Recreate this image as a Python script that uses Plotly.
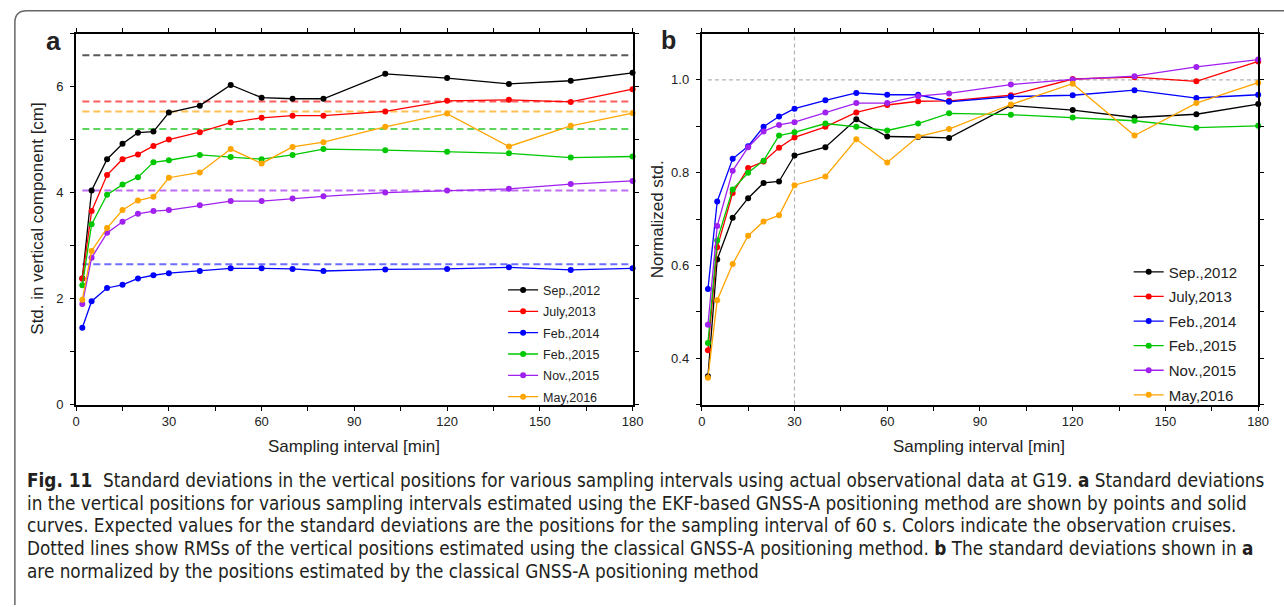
import plotly.graph_objects as go

# ---------------- data ----------------
intervals = [2, 5, 10, 15, 20, 25, 30, 40, 50, 60, 70, 80, 100, 120, 140, 160, 180]
cruises = ["Sep.,2012", "July,2013", "Feb.,2014", "Feb.,2015", "Nov.,2015", "May,2016"]

std_sep2012 = [2.38, 4.04, 4.63, 4.92, 5.13, 5.15, 5.51, 5.64, 6.03, 5.79, 5.77, 5.77, 6.24, 6.16, 6.05, 6.11, 6.26]
std_jul2013 = [2.38, 3.65, 4.33, 4.63, 4.72, 4.88, 5.00, 5.14, 5.32, 5.41, 5.45, 5.45, 5.53, 5.73, 5.75, 5.71, 5.95]
std_feb2014 = [1.45, 1.95, 2.20, 2.26, 2.38, 2.44, 2.48, 2.52, 2.57, 2.57, 2.56, 2.52, 2.55, 2.56, 2.59, 2.54, 2.57]
std_feb2015 = [2.25, 3.40, 3.96, 4.15, 4.29, 4.57, 4.61, 4.71, 4.67, 4.63, 4.71, 4.82, 4.80, 4.77, 4.74, 4.66, 4.68]
std_nov2015 = [1.90, 2.77, 3.24, 3.45, 3.60, 3.65, 3.67, 3.76, 3.84, 3.84, 3.89, 3.93, 4.00, 4.04, 4.07, 4.16, 4.22]
std_may2016 = [1.98, 2.90, 3.33, 3.67, 3.85, 3.92, 4.28, 4.38, 4.82, 4.55, 4.86, 4.95, 5.24, 5.49, 4.87, 5.26, 5.50]

classical_rms = [6.59, 5.72, 2.65, 5.20, 4.04, 5.53]

norm_sep2012 = [0.361, 0.613, 0.703, 0.745, 0.778, 0.781, 0.837, 0.855, 0.915, 0.878, 0.877, 0.875, 0.945, 0.935, 0.919, 0.926, 0.948]
norm_jul2013 = [0.417, 0.639, 0.756, 0.810, 0.824, 0.854, 0.876, 0.899, 0.930, 0.946, 0.954, 0.955, 0.967, 1.002, 1.006, 0.997, 1.040]
norm_feb2014 = [0.549, 0.738, 0.830, 0.857, 0.899, 0.921, 0.938, 0.956, 0.972, 0.968, 0.968, 0.953, 0.964, 0.967, 0.978, 0.961, 0.968]
norm_feb2015 = [0.433, 0.654, 0.764, 0.800, 0.826, 0.880, 0.887, 0.906, 0.899, 0.891, 0.906, 0.928, 0.925, 0.919, 0.912, 0.897, 0.901]
norm_nov2015 = [0.472, 0.685, 0.804, 0.855, 0.889, 0.903, 0.909, 0.930, 0.950, 0.950, 0.965, 0.971, 0.990, 1.001, 1.008, 1.028, 1.044]
norm_may2016 = [0.358, 0.525, 0.603, 0.664, 0.695, 0.708, 0.773, 0.792, 0.872, 0.822, 0.878, 0.894, 0.947, 0.992, 0.880, 0.950, 0.994]

ref_norm = 1.0
ref_interval = 30

x_ticks = list(range(0, 181, 15))
x_ticklabels = [str(v) if v % 30 == 0 else "" for v in x_ticks]
ya_ticks = list(range(0, 8))
ya_ticklabels = [str(v) if v % 2 == 0 else "" for v in ya_ticks]
yb_ticks = [0.3, 0.4, 0.5, 0.6, 0.7, 0.8, 0.9, 1.0, 1.1]
yb_ticklabels = ["", "0.4", "", "0.6", "", "0.8", "", "1.0", ""]

caption_lines = [
    "<b>Fig. 11</b>  Standard deviations in the vertical positions for various sampling intervals using actual observational data at G19. <b>a</b> Standard deviations",
    "in the vertical positions for various sampling intervals estimated using the EKF-based GNSS-A positioning method are shown by points and solid",
    "curves. Expected values for the standard deviations are the positions for the sampling interval of 60 s. Colors indicate the observation cruises.",
    "Dotted lines show RMSs of the vertical positions estimated using the classical GNSS-A positioning method. <b>b</b> The standard deviations shown in <b>a</b>",
    "are normalized by the positions estimated by the classical GNSS-A positioning method",
]

# ---------------- style ----------------
colors = ["#000000", "#ff0000", "#0000ff", "#00c800", "#a020f0", "#ffa500"]
dash_colors = ["rgba(60,60,60,0.85)", "rgba(255,40,40,0.75)", "rgba(60,60,255,0.75)",
               "rgba(40,200,40,0.75)", "rgba(170,60,240,0.75)", "rgba(255,175,40,0.8)"]
W, H = 1284, 607
FONT = "Liberation Sans, Arial, Helvetica, sans-serif"
CAP_FONT = "DejaVu Sans Condensed, Liberation Sans Narrow, sans-serif"

std_series = [std_sep2012, std_jul2013, std_feb2014, std_feb2015, std_nov2015, std_may2016]
norm_series = [norm_sep2012, norm_jul2013, norm_feb2014, norm_feb2015, norm_nov2015, norm_may2016]

fig = go.Figure()

# classical RMS dashed lines (panel a)
for c, rms in zip(dash_colors, classical_rms):
    fig.add_trace(go.Scatter(x=[intervals[0], intervals[-1]], y=[rms, rms], mode="lines",
                             line=dict(color=c, width=2, dash="7px,4px"),
                             showlegend=False, hoverinfo="skip", xaxis="x", yaxis="y"))

# reference lines (panel b)
fig.add_trace(go.Scatter(x=[intervals[0], intervals[-1]], y=[ref_norm, ref_norm], mode="lines",
                         line=dict(color="#b4b4b4", width=1.2, dash="4px,3px"),
                         showlegend=False, hoverinfo="skip", xaxis="x2", yaxis="y2"))
fig.add_trace(go.Scatter(x=[ref_interval, ref_interval], y=[yb_ticks[0], yb_ticks[-1]], mode="lines",
                         line=dict(color="#b4b4b4", width=1.2, dash="4px,3px"),
                         showlegend=False, hoverinfo="skip", xaxis="x2", yaxis="y2"))

for i, (name, c, ys) in enumerate(zip(cruises, colors, std_series)):
    fig.add_trace(go.Scatter(x=intervals, y=ys, name=name, mode="lines+markers",
                             line=dict(color=c, width=1.3), marker=dict(color=c, size=6),
                             cliponaxis=False, xaxis="x", yaxis="y", legend="legend",
                             legendgroup=f"a{i}"))
for i, (name, c, ys) in enumerate(zip(cruises, colors, norm_series)):
    fig.add_trace(go.Scatter(x=intervals, y=ys, name=name, mode="lines+markers",
                             line=dict(color=c, width=1.3), marker=dict(color=c, size=6),
                             cliponaxis=False, xaxis="x2", yaxis="y2", legend="legend2",
                             legendgroup=f"b{i}"))

def px_x(p):
    return p / W

def px_y(p):
    return 1 - p / H

axis_common = dict(showline=True, linecolor="black", linewidth=2, mirror="ticks",
                   ticks="outside", ticklen=4, tickwidth=1.3, tickcolor="black",
                   showgrid=False, zeroline=False, tickfont=dict(family=FONT, size=13, color="#222"))

fig.update_layout(
    autosize=True,
    margin=dict(l=0, r=0, t=0, b=0),
    paper_bgcolor="white", plot_bgcolor="white",
    font=dict(family=FONT, color="#222"),
    xaxis=dict(domain=[px_x(73), px_x(636)], range=[0, 180], tickvals=x_ticks, ticktext=x_ticklabels,
               anchor="y", **axis_common),
    yaxis=dict(domain=[px_y(410), px_y(34)], range=[0, 7], tickvals=ya_ticks, ticktext=ya_ticklabels,
               anchor="x", ticklabelstandoff=4, **axis_common),
    xaxis2=dict(domain=[px_x(706), px_x(1269)], range=[0, 180], tickvals=x_ticks, ticktext=x_ticklabels,
                anchor="y2", **axis_common),
    yaxis2=dict(domain=[px_y(410), px_y(34)], range=[0.3, 1.1], tickvals=yb_ticks, ticktext=yb_ticklabels,
                anchor="x2", ticklabelstandoff=4, **axis_common),
    legend=dict(x=px_x(505), y=px_y(279), xanchor="left", yanchor="top", bgcolor="rgba(0,0,0,0)",
                font=dict(family=FONT, size=12.5, color="#222"), tracegroupgap=2.1, itemwidth=30),
    legend2=dict(x=px_x(1138), y=px_y(259), xanchor="left", yanchor="top", bgcolor="rgba(0,0,0,0)",
                 font=dict(family=FONT, size=15, color="#222"), tracegroupgap=2.1, itemwidth=30),
    showlegend=True,
)

annotations = [
    dict(text="<b>a</b>", x=px_x(50), y=px_y(42), font=dict(family=FONT, size=26, color="#222")),
    dict(text="<b>b</b>", x=px_x(672), y=px_y(41), font=dict(family=FONT, size=25, color="#222")),
    dict(text="Std. in vertical component [cm]", x=px_x(33), y=px_y(222), textangle=-90,
         font=dict(family=FONT, size=17, color="#222")),
    dict(text="Normalized std.", x=px_x(661), y=px_y(222), textangle=-90,
         font=dict(family=FONT, size=17, color="#222")),
    dict(text="Sampling interval [min]", x=px_x(354), y=px_y(452),
         font=dict(family=FONT, size=17, color="#222")),
    dict(text="Sampling interval [min]", x=px_x(987), y=px_y(452),
         font=dict(family=FONT, size=17, color="#222")),
]
for a in annotations:
    a.update(xref="paper", yref="paper", showarrow=False, xanchor="center", yanchor="middle")

line_y = [487, 510, 533, 556, 579]
for txt, yy in zip(caption_lines, line_y):
    annotations.append(dict(text=txt, x=px_x(21), y=px_y(yy), xref="paper", yref="paper",
                            showarrow=False, xanchor="left", yanchor="middle",
                            font=dict(family=CAP_FONT, size=18.8, color="#231f20")))
fig.update_layout(annotations=annotations)

# rounded frame around the figure
r_x, r_y = 12 / W, 12 / H
lx, ty = px_x(11), px_y(11)
fig.add_shape(type="path", xref="paper", yref="paper",
              path=f"M 1.01,{ty} L {lx + r_x},{ty} Q {lx},{ty} {lx},{ty - r_y} L {lx},-0.01",
              line=dict(color="#666", width=1.5))

fig.write_html("out.html", config={"displayModeBar": False, "responsive": True},
               default_width="100vw", default_height="100vh",
               post_script="document.body.style.margin='0';document.body.style.overflow='hidden';")
